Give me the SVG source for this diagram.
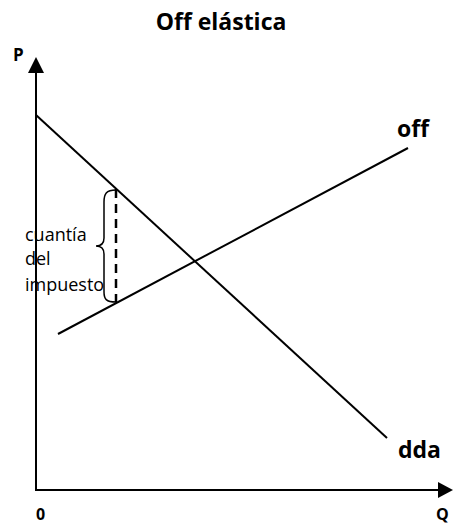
<svg xmlns="http://www.w3.org/2000/svg" width="453" height="525" viewBox="0 0 453 525">
<style>
.ln{stroke:#000;stroke-width:2;fill:none}
.b{font-family:"Open Sans","Liberation Sans",sans-serif;font-weight:bold;fill:#000}
.r{font-family:"Open Sans","Liberation Sans",sans-serif;font-size:18px;fill:#000}
</style>
<rect width="453" height="525" fill="#fff"/>
<text class="b" x="221" y="30" font-size="23" text-anchor="middle">Off elástica</text>
<g id="axes">
<line class="ln" x1="36" y1="491" x2="36" y2="70"/>
<path d="M36,57 L44,73 L28,73 Z" fill="#000"/>
<line class="ln" x1="35" y1="490" x2="440" y2="490"/>
<path d="M453,490 L438,482 L438,498 Z" fill="#000"/>
</g>
<g id="labels">
<text class="b" x="13" y="61" font-size="17">P</text>
<text class="b" x="36" y="520" font-size="16">0</text>
<text class="b" x="436" y="520" font-size="16">Q</text>
</g>
<g id="connectors">
<line id="dda-line" class="ln" x1="36" y1="115" x2="387" y2="438"/>
<line id="off-line" class="ln" x1="58" y1="334" x2="408" y2="148"/>
<line id="tax" x1="116" y1="189" x2="116" y2="302" stroke="#000" stroke-width="2.5" stroke-dasharray="9,6"/>
<path id="brace" d="M116,190 C106,190 104,194 104,202 L104,238 C104,244 100,246 96,246 C100,246 104,248 104,254 L104,292 C104,299 106,302 116,302" fill="none" stroke="#000" stroke-width="1.5"/>
</g>
<g id="off">
<text class="b" x="397" y="137" font-size="23">off</text>
</g>
<g id="dda">
<text class="b" x="398" y="458" font-size="23">dda</text>
</g>
<g id="cuantia">
<text class="r" x="25" y="241">cuantía</text>
<text class="r" x="25" y="265">del</text>
<text class="r" x="25" y="291">impuesto</text>
</g>
</svg>
